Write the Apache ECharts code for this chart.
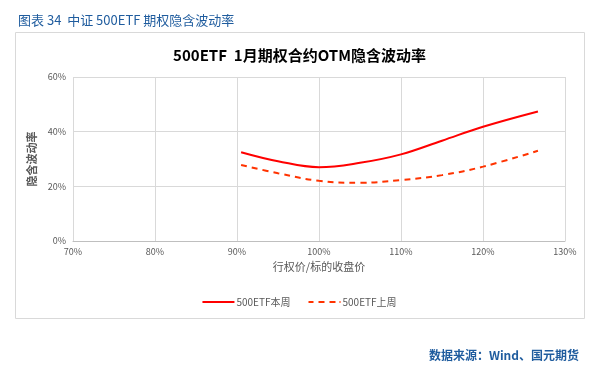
<!DOCTYPE html>
<html><head><meta charset="utf-8">
<script src="https://cdn.jsdelivr.net/npm/echarts@6/dist/echarts.min.js"></script>
<style>html,body{margin:0;padding:0;background:#fff}#c{width:599px;height:372px}</style>
</head><body><div id="c"></div>
<script>
const moneyness = [90.5, 95, 100, 105, 110, 115, 120, 126.7];
const thisWeek = [0.325, 0.292, 0.270, 0.286, 0.317, 0.367, 0.418, 0.474];
const lastWeek = [0.278, 0.248, 0.220, 0.213, 0.223, 0.241, 0.272, 0.330];
const seriesNames = ['500ETF本周', '500ETF上周'];

const chart = echarts.init(document.getElementById('c'));
const font = 'Microsoft YaHei, "Noto Sans CJK SC", sans-serif';
chart.setOption({
  animation: false,
  textStyle: {fontFamily: font},
  title: [
    {text: '图表 34  中证 500ETF 期权隐含波动率', left: 13, top: 9,
     textStyle: {fontSize: 13, fontWeight: 'normal', color: '#1F5C9E', fontFamily: font}},
    {text: '500ETF  1月期权合约OTM隐含波动率', left: 'center', top: 43,
     textStyle: {fontSize: 15, fontWeight: 'bold', color: '#000', fontFamily: font}},
    {text: '数据来源：Wind、国元期货', right: 15, top: 344,
     textStyle: {fontSize: 12, fontWeight: 'bold', color: '#1F5C9E', fontFamily: font}}
  ],
  graphic: [{type: 'rect', shape: {x: 15.5, y: 32.5, width: 569, height: 286},
    style: {fill: 'none', stroke: '#d9d9d9', lineWidth: 1}, silent: true}],
  legend: {top: 292, left: 'center', itemWidth: 32, itemHeight: 2, itemGap: 18,
    textStyle: {fontSize: 10, color: '#595959', padding: [0, 0, 0, -3]},
    data: [
      {name: seriesNames[0], icon: 'rect', itemStyle: {color: '#FF0000'}},
      {name: seriesNames[1], icon: 'path://M0,0h5v2h-5z M10,0h6v2h-6z M21,0h6v2h-6z M31,0h1v2h-1z', itemStyle: {color: '#FF3300'}}
    ]},
  grid: {left: 73, right: 34, top: 77, bottom: 131},
  xAxis: {type: 'value', min: 70, max: 130, interval: 10,
    name: '行权价/标的收盘价', nameLocation: 'middle', nameGap: 20,
    nameTextStyle: {fontSize: 11, color: '#595959'},
    axisLine: {show: true, lineStyle: {color: '#bfbfbf'}}, axisTick: {show: false},
    axisLabel: {formatter: '{value}%', fontSize: 9, color: '#595959', margin: 6},
    splitLine: {lineStyle: {color: '#d9d9d9'}}},
  yAxis: {type: 'value', min: 0, max: 0.6, interval: 0.2,
    name: '隐含波动率', nameLocation: 'middle', nameGap: 27,
    nameTextStyle: {fontSize: 11, fontWeight: 'bold', color: '#595959'},
    axisLine: {show: false}, axisTick: {show: false},
    axisLabel: {formatter: v => Math.round(v * 100) + '%', fontSize: 9, color: '#595959', margin: 7},
    splitLine: {lineStyle: {color: '#d9d9d9'}}},
  series: [
    {name: seriesNames[0], type: 'line', smooth: 0.4, symbol: 'none',
     data: moneyness.map((x, i) => [x, thisWeek[i]]),
     lineStyle: {color: '#FF0000', width: 2}, itemStyle: {color: '#FF0000'}},
    {name: seriesNames[1], type: 'line', smooth: 0.4, symbol: 'none',
     data: moneyness.map((x, i) => [x, lastWeek[i]]),
     lineStyle: {color: '#FF3300', width: 2, type: [6, 5]}, itemStyle: {color: '#FF3300'}}
  ]
});
</script></body></html>
